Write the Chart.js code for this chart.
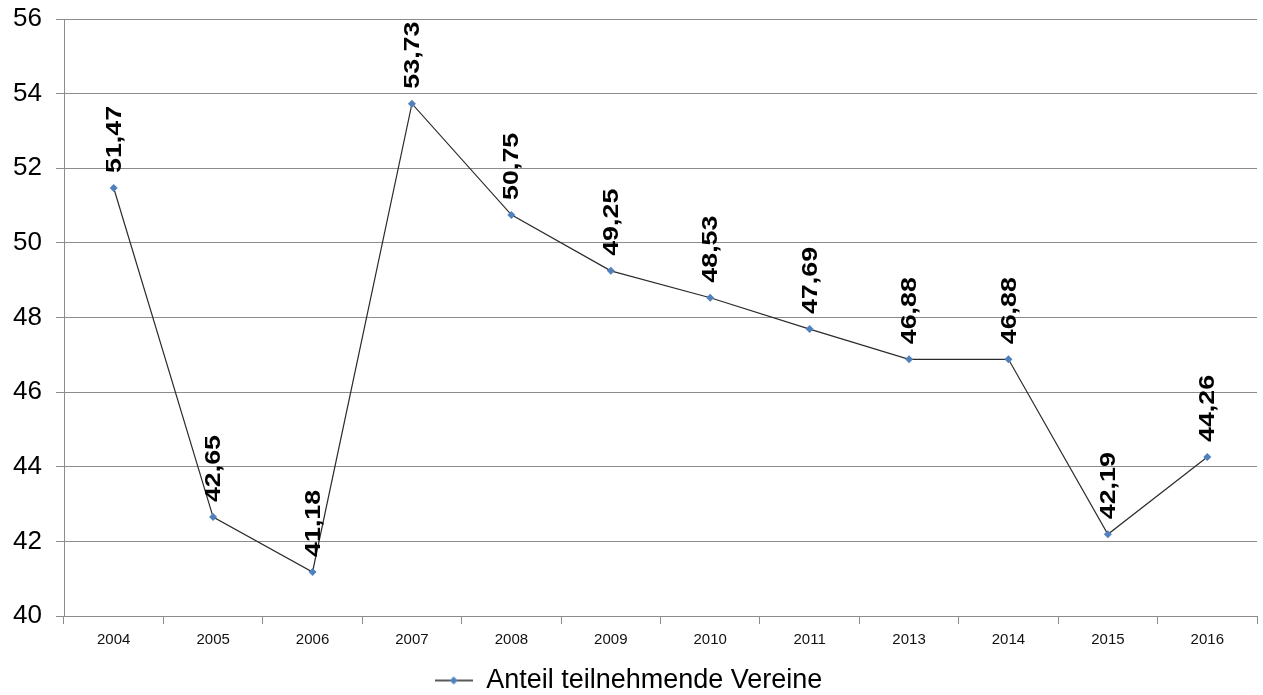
<!DOCTYPE html>
<html>
<head>
<meta charset="utf-8">
<script src="https://cdn.jsdelivr.net/npm/chart.js@4/dist/chart.umd.min.js"></script>
<style>
  html, body { margin: 0; padding: 0; background: #fff; }
  #wrap { width: 1263px; height: 695px; }
</style>
</head>
<body>
<div id="wrap"><canvas id="myChart" width="1263" height="695"></canvas></div>
<script>
var years = ['2004', '2005', '2006', '2007', '2008', '2009', '2010', '2011', '2013', '2014', '2015', '2016'];
var anteil = [51.47, 42.65, 41.18, 53.73, 50.75, 49.25, 48.53, 47.69, 46.88, 46.88, 42.19, 44.26];
var seriesName = 'Anteil teilnehmende Vereine';

// legend marker: short line with a small diamond
var marker = document.createElement('canvas');
marker.width = 38;
marker.height = 10;
var mctx = marker.getContext('2d');
mctx.strokeStyle = '#222';
mctx.lineWidth = 1.5;
mctx.beginPath();
mctx.moveTo(0, 5);
mctx.lineTo(38, 5);
mctx.stroke();
mctx.fillStyle = '#4f81bd';
mctx.beginPath();
mctx.moveTo(19, 1);
mctx.lineTo(23, 5);
mctx.lineTo(19, 9);
mctx.lineTo(15, 5);
mctx.closePath();
mctx.fill();

var valueLabels = {
  id: 'valueLabels',
  afterDatasetsDraw: function(chart) {
    var ctx = chart.ctx;
    var meta = chart.getDatasetMeta(0);
    ctx.save();
    ctx.fillStyle = '#000';
    ctx.font = 'bold 22px "Liberation Sans", Arial, sans-serif';
    ctx.textAlign = 'left';
    ctx.textBaseline = 'middle';
    meta.data.forEach(function(pt, i) {
      var txt = anteil[i].toFixed(2).replace('.', ',');
      ctx.save();
      ctx.translate(pt.x + 1, pt.y - 15);
      ctx.rotate(-Math.PI / 2);
      ctx.scale(1.22, 1);
      ctx.fillText(txt, 0, 0);
      ctx.restore();
    });
    ctx.restore();
  }
};

var ctx = document.getElementById('myChart').getContext('2d');
var chart = new Chart(ctx, {
  type: 'line',
  data: {
    labels: years,
    datasets: [{
      label: seriesName,
      data: anteil,
      borderColor: '#2b2b2b',
      borderWidth: 1.2,
      backgroundColor: '#4f81bd',
      pointStyle: 'rectRot',
      pointRadius: 4,
      pointBorderWidth: 0,
      pointBackgroundColor: '#4f81bd',
      tension: 0,
      fill: false
    }]
  },
  options: {
    responsive: false,
    animation: false,
    layout: { padding: { top: 19, right: 6, bottom: -9, left: 0 } },
    scales: {
      x: {
        offset: true,
        grid: { display: true, drawOnChartArea: false, drawTicks: true, tickLength: 8, color: '#8c8c8c', offset: true },
        border: { display: true, color: '#8c8c8c' },
        ticks: {
          color: '#111',
          padding: 7,
          maxRotation: 0,
          font: { family: '"Liberation Sans", Arial, sans-serif', size: 15 }
        },
        afterFit: function(scale) { scale.height = 49; }
      },
      y: {
        min: 40,
        max: 56,
        grid: { color: '#8c8c8c', lineWidth: 1, tickLength: 8 },
        border: { display: true, color: '#8c8c8c' },
        ticks: {
          stepSize: 2,
          color: '#000',
          padding: 14,
          font: { family: '"Liberation Sans", Arial, sans-serif', size: 26 }
        },
        afterFit: function(scale) {
          scale.width = 64;
          scale.paddingTop = 0;
          scale.paddingBottom = 0;
        }
      }
    },
    plugins: {
      legend: {
        position: 'bottom',
        labels: {
          usePointStyle: true,
          pointStyle: marker,
          pointStyleWidth: 38,
          color: '#000',
          padding: 2,
          font: { family: '"Liberation Sans", Arial, sans-serif', size: 27 }
        }
      },
      tooltip: { enabled: false }
    }
  },
  plugins: [valueLabels]
});
</script>
</body>
</html>
